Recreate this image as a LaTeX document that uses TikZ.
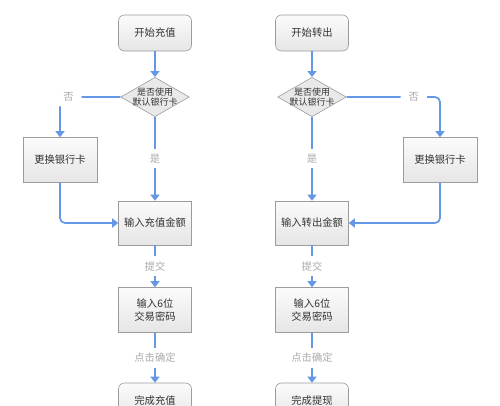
\documentclass[tikz,border=0pt]{standalone}
\usepackage{fontspec}
\setmainfont{Noto Sans CJK SC}
\usetikzlibrary{arrows.meta, positioning, shapes.geometric}
\definecolor{cblue}{HTML}{6497E6}
\definecolor{cedge}{HTML}{9C9C9C}
\definecolor{ctext}{HTML}{333333}
\definecolor{cgrey}{HTML}{ABABAB}
\tikzset{
  every picture/.style={font=\fontsize{10.3}{13}\selectfont, line width=0.6pt},
  box/.style={draw=cedge, top color=gray!3, bottom color=gray!20, text=ctext, align=center, minimum width=73pt, minimum height=44pt, inner sep=2pt},
  terminal/.style={box, rounded corners=6pt, minimum height=36pt},
  choice/.style={diamond, draw=cedge, fill=gray!17, text=ctext, align=center, aspect=1.74, inner xsep=-2pt, inner ysep=-1.5pt, font=\fontsize{9}{10.5}\selectfont},
  arrow/.style={-{Triangle[length=6pt, width=9pt]}, draw=cblue, line width=1.7pt},
  note/.style={text=cgrey, fill=white, inner xsep=8pt, inner ysep=5pt},
}

\begin{document}
\begin{tikzpicture}[x=1pt, y=-1pt]
  \useasboundingbox (0,0) rectangle (500,405);
  \clip (0,0) rectangle (500,405);
  % left: top-up
  \node[terminal] (start1) at (155,33) {开始充值};
  \node[choice] (ask1) at (155,97) {是否使用\\默认银行卡};
  \node[box, minimum width=74pt, minimum height=45pt] (swap1) at (60,160) {更换银行卡};
  \node[box] (amount1) at (155,223) {输入充值金额};
  \node[box, minimum height=45pt] (pin1) at (155,310) {输入6位\\交易密码};
  \node[terminal] (done1) at (155,401) {完成充值};
  % right: withdraw
  \node[terminal] (start2) at (312,33) {开始转出};
  \node[choice] (ask2) at (312,97) {是否使用\\默认银行卡};
  \node[box, minimum width=74pt, minimum height=45pt] (swap2) at (440,160) {更换银行卡};
  \node[box] (amount2) at (312,223) {输入转出金额};
  \node[box, minimum height=45pt] (pin2) at (312,310) {输入6位\\交易密码};
  \node[terminal] (done2) at (312,401) {完成提现};

  \draw[arrow] (start1) -- (ask1);
  \draw[arrow] (ask1) -- node[note] {是} (amount1);
  \draw[arrow, rounded corners=5pt] (ask1.west) -| node[note, pos=0.43] {否} (swap1.north);
  \draw[arrow, rounded corners=5pt] (swap1.south) |- (amount1.west);
  \draw[arrow] (amount1) -- node[note] {提交} (pin1);
  \draw[arrow] (pin1) -- node[note] {点击确定} (done1);

  \draw[arrow] (start2) -- (ask2);
  \draw[arrow] (ask2) -- node[note] {是} (amount2);
  \draw[arrow, rounded corners=5pt] (ask2.east) -| node[note, pos=0.36] {否} (swap2.north);
  \draw[arrow, rounded corners=5pt] (swap2.south) |- (amount2.east);
  \draw[arrow] (amount2) -- node[note] {提交} (pin2);
  \draw[arrow] (pin2) -- node[note] {点击确定} (done2);
\end{tikzpicture}
\end{document}
